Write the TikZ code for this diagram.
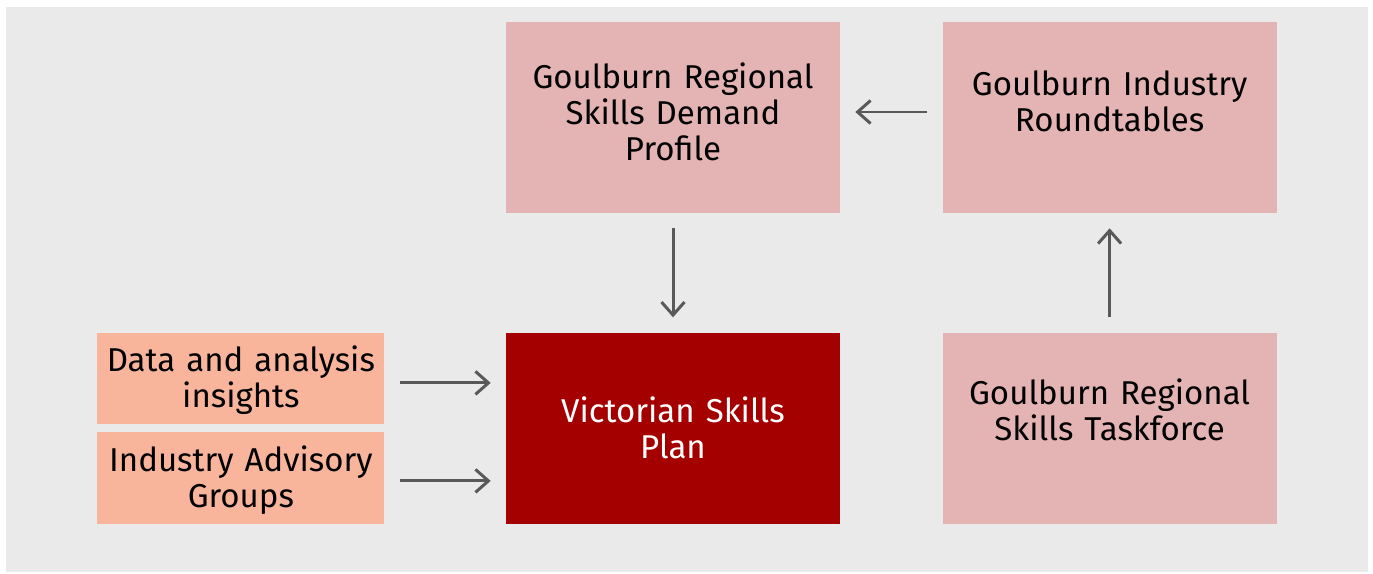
\documentclass[tikz,border=0pt]{standalone}
\usepackage{fontspec}
\setmainfont{Fira Sans}
\usetikzlibrary{arrows.meta, positioning, calc}
\usepackage{xcolor}

\definecolor{panelgrey}{HTML}{EAEAEA}
\definecolor{rosebox}{HTML}{E4B4B4}
\definecolor{vspred}{HTML}{A50000}
\definecolor{salmonbox}{HTML}{F9B59C}
\definecolor{flowgrey}{HTML}{595959}

\tikzset{
  bigbox/.style={rectangle, fill=rosebox, minimum width=6.68cm, minimum height=3.82cm,
    text width=6.4cm, align=center, inner sep=0pt,
    font=\fontsize{18.8}{20.5}\selectfont},
  inbox/.style={rectangle, fill=salmonbox, minimum width=5.74cm, minimum height=1.83cm,
    text width=5.7cm, align=center, inner sep=0pt,
    font=\fontsize{18.8}{20.5}\selectfont},
  lift/.style={execute at end node={\par\vspace{#1}}},
  flow/.style={draw=flowgrey, line width=1.7pt,
    -{Straight Barb[length=2.6mm, width=4.6mm]},
    shorten >=0.3cm, shorten <=0.3cm}
}

\begin{document}
\begin{tikzpicture}[x=0.02cm, y=-0.02cm]
  \useasboundingbox (0,0) rectangle (1373,574);
  \fill[panelgrey] (6,7) rectangle (1368,572);

  \node[bigbox, lift=6.8pt] (DemandProfile) at (673,117.5)
    {Goulburn Regional\\Skills Demand\\Profile};
  \node[bigbox, lift=18.8pt, right=2.04cm of DemandProfile] (Roundtables)
    {Goulburn Industry\\Roundtables};
  \node[bigbox, fill=vspred, text=white, below=2.38cm of DemandProfile] (SkillsPlan)
    {Victorian Skills\\Plan};
  \node[bigbox, lift=21pt, right=2.04cm of SkillsPlan] (Taskforce)
    {Goulburn Regional\\Skills Taskforce};
  \node[inbox, lift=-2pt, anchor=north east] (DataInsights) at ($(SkillsPlan.north west)+(-121,0)$)
    {Data and analysis\\insights};
  \node[inbox, lift=-3pt, anchor=south east] (AdvisoryGroups) at ($(SkillsPlan.south west)+(-121,0)$)
    {Industry Advisory\\Groups};

  \coordinate (dataout) at ($(DataInsights.east)+(0,4.5)$);
  \coordinate (groupsout) at ($(AdvisoryGroups.east)+(0,3)$);
  \coordinate (tableout) at ($(Roundtables.west)+(0,-5.5)$);
  \draw[flow] (dataout) -- (dataout -| SkillsPlan.west);
  \draw[flow] (groupsout) -- (groupsout -| SkillsPlan.west);
  \draw[flow] (DemandProfile) -- (SkillsPlan);
  \draw[flow] (tableout) -- (tableout -| DemandProfile.east);
  \draw[flow] (Taskforce) -- (Roundtables);
\end{tikzpicture}
\end{document}
